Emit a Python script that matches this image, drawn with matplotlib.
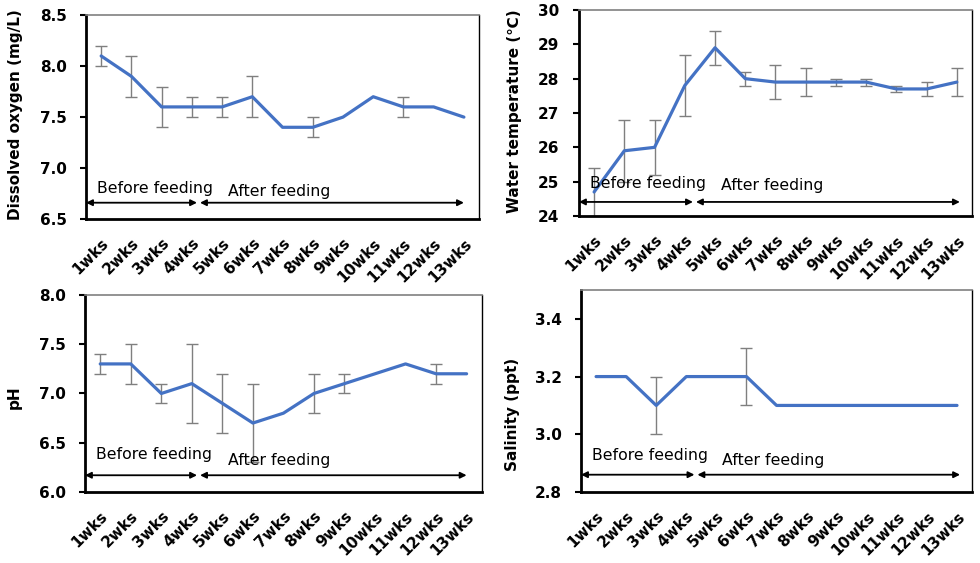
import numpy as np
import matplotlib.pyplot as plt

# etiquetes de setmanes
setmanes = ['1wks', '2wks', '3wks', '4wks', '5wks', '6wks', '7wks',
            '8wks', '9wks', '10wks', '11wks', '12wks', '13wks']

# oxigen dissolt (mg/L)
do_mitjana = [8.1, 7.9, 7.6, 7.6, 7.6, 7.7, 7.4, 7.4, 7.5, 7.7, 7.6, 7.6, 7.5]
do_error = [0.1, 0.2, 0.2, 0.1, 0.1, 0.2, 0, 0.1, 0, 0, 0.1, 0, 0]

# temperatura de l'aigua (℃)
temp_mitjana = [24.7, 25.9, 26.0, 27.8, 28.9, 28.0, 27.9, 27.9, 27.9, 27.9, 27.7, 27.7, 27.9]
temp_error = [0.7, 0.9, 0.8, 0.9, 0.5, 0.2, 0.5, 0.4, 0.1, 0.1, 0.1, 0.2, 0.4]

# pH
ph_mitjana = [7.3, 7.3, 7.0, 7.1, 6.9, 6.7, 6.8, 7.0, 7.1, 7.2, 7.3, 7.2, 7.2]
ph_error = [0.1, 0.2, 0.1, 0.4, 0.3, 0.4, 0, 0.2, 0.1, 0, 0, 0.1, 0]

# salinitat (ppt)
sal_mitjana = [3.2, 3.2, 3.1, 3.2, 3.2, 3.2, 3.1, 3.1, 3.1, 3.1, 3.1, 3.1, 3.1]
sal_error = [0, 0, 0.1, 0, 0, 0.1, 0, 0, 0, 0, 0, 0, 0]

BLAU = '#4472C4'

fig = plt.figure(figsize=(9.8, 5.63), dpi=100)

# rect, dades, ylim, yticks, format, ylabel, posicio ylabel, y fletxa, y textos, final fletxes
panells = [
    ([0.0878, 0.611, 0.401, 0.362], do_mitjana, do_error, (6.5, 8.5),
     [6.5, 7.0, 7.5, 8.0, 8.5], '{:.1f}', 'Dissolved oxygen (mg/L)', (-0.16, 0.51),
     6.66, 6.80, 6.77, 3.17, 12.0),
    ([0.5908, 0.6163, 0.401, 0.366], temp_mitjana, temp_error, (24, 30),
     [24, 25, 26, 27, 28, 29, 30], '{:.0f}', 'Water temperature (℃)', (-0.145, 0.51),
     24.41, 24.96, 24.9, 3.27, 12.1),
    ([0.0867, 0.1261, 0.405, 0.350], ph_mitjana, ph_error, (6.0, 8.0),
     [6.0, 6.5, 7.0, 7.5, 8.0], '{:.1f}', 'pH', (-0.159, 0.482),
     6.17, 6.38, 6.32, 3.17, 12.0),
    ([0.5929, 0.1261, 0.399, 0.3588], sal_mitjana, sal_error, (2.8, 3.5),
     [2.8, 3.0, 3.2, 3.4], '{:.1f}', 'Salinity (ppt)', (-0.156, 0.386),
     2.86, 2.925, 2.91, 3.27, 12.1),
]

x = np.arange(len(setmanes))

for (rect, mitj, err, ylim, yticks, fmt, ylabel, lab_pos,
     y_fl, y_ab, y_de, fi_ab, fi_de) in panells:
    ax = fig.add_axes(rect)
    err_arr = np.array(err, dtype=float)
    mask = err_arr > 0
    ax.errorbar(x[mask], np.array(mitj)[mask], yerr=err_arr[mask], fmt='none',
                ecolor='#7f7f7f', elinewidth=1, capsize=4, capthick=1, zorder=2)
    ax.plot(x, mitj, color=BLAU, lw=2.3, zorder=3, solid_capstyle='round')

    ax.set_xlim(-0.5, 12.5)
    ax.set_ylim(*ylim)
    ax.set_yticks(yticks)
    ax.set_yticklabels([fmt.format(v) for v in yticks], fontsize=11, fontweight='bold')
    ax.set_xticks(x)
    ax.set_xticklabels(setmanes, rotation=45, ha='right', rotation_mode='anchor',
                       fontsize=11, fontweight='bold')
    ax.tick_params(axis='x', length=0, pad=12)
    ax.tick_params(axis='y', length=4, width=1.5, direction='out', pad=10)
    ax.set_ylabel(ylabel, fontsize=11, fontweight='bold')
    ax.yaxis.set_label_coords(*lab_pos)

    for s in ['left', 'bottom']:
        ax.spines[s].set_linewidth(2)
        ax.spines[s].set_color('black')
    ax.spines['top'].set_color('#808080')
    ax.spines['top'].set_linewidth(1.2)
    ax.spines['right'].set_color('black')
    ax.spines['right'].set_linewidth(1)

    # fletxes abans/després
    ax.annotate('', xy=(-0.5, y_fl), xytext=(fi_ab, y_fl),
                arrowprops=dict(arrowstyle='<|-|>', color='black', lw=1.3,
                                mutation_scale=9, shrinkA=0, shrinkB=0), zorder=4)
    ax.annotate('', xy=(fi_ab + 0.1, y_fl), xytext=(fi_de, y_fl),
                arrowprops=dict(arrowstyle='<|-|>', color='black', lw=1.3,
                                mutation_scale=9, shrinkA=0, shrinkB=0), zorder=4)
    ax.text(-0.15, y_ab, 'Before feeding', fontsize=11.3, va='center', ha='left', zorder=5)
    ax.text(4.2, y_de, 'After feeding', fontsize=11.3, va='center', ha='left', zorder=5)

fig.savefig('out.png', dpi=100)
